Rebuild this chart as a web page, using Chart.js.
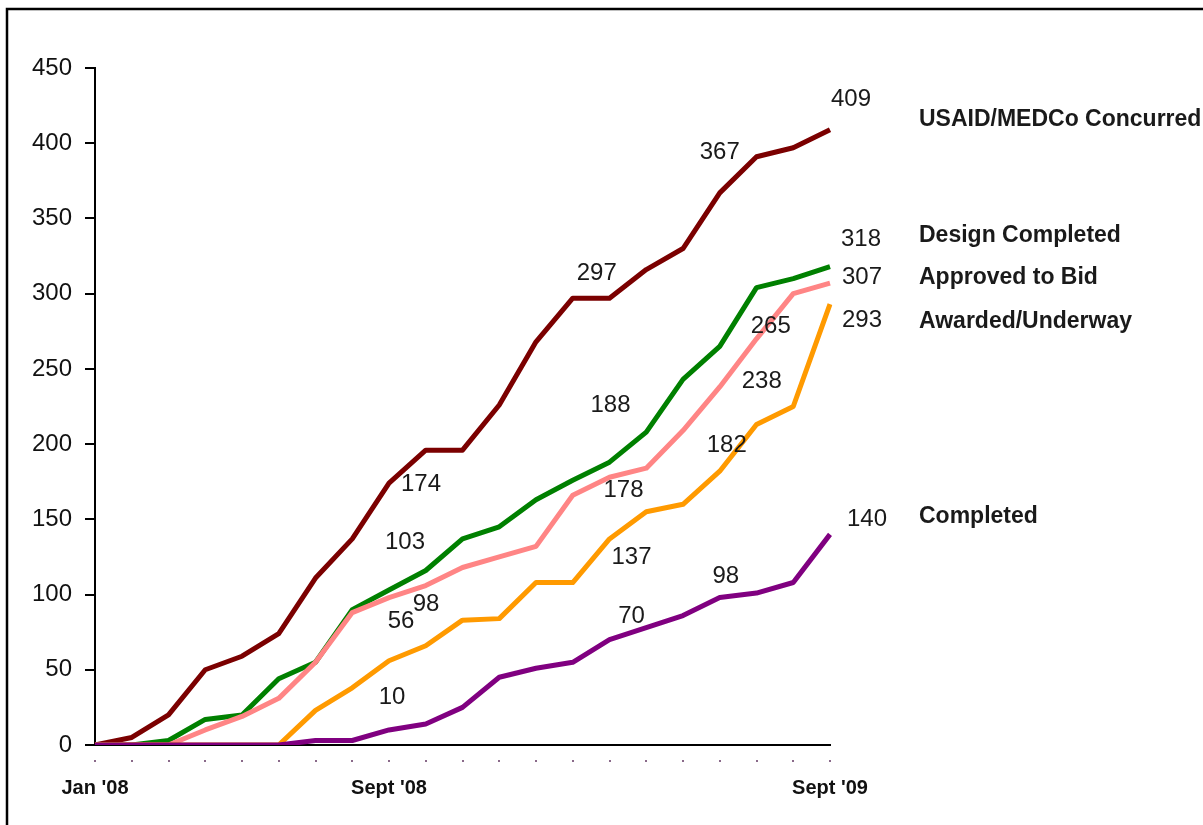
<!DOCTYPE html>
<html>
<head>
<meta charset="utf-8">
<script src="https://cdn.jsdelivr.net/npm/chart.js@4.4.0/dist/chart.umd.min.js"></script>
<style>
  html, body { margin: 0; padding: 0; background: #fff; }
  #wrap { position: relative; width: 1203px; height: 825px; }
</style>
</head>
<body>
<div id="wrap"><canvas id="progressChart" width="1203" height="825"></canvas></div>
<script>
// months Jan '08 .. Sept '09
const months = ["Jan '08", "Feb '08", "Mar '08", "Apr '08", "May '08", "Jun '08", "Jul '08", "Aug '08", "Sept '08",
    "Oct '08", "Nov '08", "Dec '08", "Jan '09", "Feb '09", "Mar '09", "Apr '09", "May '09", "Jun '09", "Jul '09",
    "Aug '09", "Sept '09"];
const shownMonths = ["Jan '08", "Sept '08", "Sept '09"];
const yTicks = [0, 50, 100, 150, 200, 250, 300, 350, 400, 450];

const concurred = [0, 5, 20, 50, 59, 74, 111, 137, 174, 196, 196, 226, 268, 297, 297, 316, 330, 367, 391, 397, 409];
const designCompleted = [0, 0, 3, 17, 20, 44, 55, 90, 103, 116, 137, 145, 163, 176, 188, 208, 243, 265, 304, 310, 318];
const approvedToBid = [0, 0, 0, 10, 19, 31, 55, 88, 98, 106, 118, 125, 132, 166, 178, 184, 209, 238, 270, 300, 307];
const awarded = [0, 0, 0, 0, 0, 0, 23, 38, 56, 66, 83, 84, 108, 108, 137, 155, 160, 182, 213, 225, 293];
const completed = [0, 0, 0, 0, 0, 0, 3, 3, 10, 14, 25, 45, 51, 55, 70, 78, 86, 98, 101, 108, 140];

// which points carry a value label, per series
const concurredLabelAt = [8, 13, 17, 20];
const designLabelAt = [8, 14, 17, 20];
const approvedLabelAt = [8, 14, 17, 20];
const awardedLabelAt = [8, 14, 17, 20];
const completedLabelAt = [8, 14, 17, 20];

const seriesNames = ['USAID/MEDCo Concurred', 'Design Completed', 'Approved to Bid', 'Awarded/Underway', 'Completed'];

// label placement relative to the point (styling only)
const labelOffsets = [
    [[32, 1], [24, -25], [0, -40], [21, -30]],
    [[16, -48], [1, -57], [51, -20], [31, -27]],
    [[37, 7], [14, 13], [42, -6], [32, -6]],
    [[12, -39], [22, 18], [7, -26], [32, 16]],
    [[3, -33], [22, -23], [6, -21], [37, -15]],
];
const nameOffsets = [-10, -31, -5, 17, -18];

const FONT = "'Liberation Sans', Arial, sans-serif";

const annotate = {
    id: 'annotate',
    beforeDraw(chart) {
        const ctx = chart.ctx;
        ctx.save();
        ctx.fillStyle = '#fff';
        ctx.fillRect(0, 0, chart.width, chart.height);
        ctx.strokeStyle = '#000';
        ctx.lineWidth = 2.5;
        ctx.beginPath();
        ctx.moveTo(7, chart.height + 5);
        ctx.lineTo(7, 9);
        ctx.lineTo(chart.width + 5, 9);
        ctx.stroke();
        ctx.restore();
    },
    afterDatasetsDraw(chart) {
        const ctx = chart.ctx;
        const xs = chart.scales.x;
        const ys = chart.scales.y;
        const area = chart.chartArea;
        ctx.save();
        // small dots under each month
        ctx.fillStyle = '#8a6a8a';
        months.forEach((m, i) => {
            ctx.fillRect(Math.round(xs.getPixelForValue(i)) - 1, area.bottom + 15, 2, 2);
        });
        const labelAt = [concurredLabelAt, designLabelAt, approvedLabelAt, awardedLabelAt, completedLabelAt];
        ctx.textAlign = 'center';
        ctx.textBaseline = 'middle';
        ctx.fillStyle = '#1a1a1a';
        ctx.font = '24px ' + FONT;
        chart.data.datasets.forEach((ds, s) => {
            labelAt[s].forEach((idx, k) => {
                const px = xs.getPixelForValue(idx) + labelOffsets[s][k][0];
                const py = ys.getPixelForValue(ds.data[idx]) + labelOffsets[s][k][1];
                ctx.fillText(String(ds.data[idx]), px, py);
            });
        });
        // series names at the right
        ctx.textAlign = 'left';
        ctx.font = 'bold 23px ' + FONT;
        chart.data.datasets.forEach((ds, s) => {
            const last = ds.data.length - 1;
            const py = ys.getPixelForValue(ds.data[last]) + nameOffsets[s];
            ctx.fillText(seriesNames[s], area.right + 89, py);
        });
        ctx.restore();
    }
};

function line(label, data, color, order) {
    return {
        label: label,
        data: data,
        borderColor: color,
        backgroundColor: color,
        borderWidth: 5,
        pointRadius: 0,
        tension: 0,
        borderJoinStyle: 'round',
        borderCapStyle: 'butt',
        order: order,
    };
}

new Chart(document.getElementById('progressChart'), {
    type: 'line',
    data: {
        labels: months,
        datasets: [
            line(seriesNames[0], concurred, '#7b0000', 5),
            line(seriesNames[1], designCompleted, '#008000', 4),
            line(seriesNames[2], approvedToBid, '#ff8585', 3),
            line(seriesNames[3], awarded, '#ff9a00', 2),
            line(seriesNames[4], completed, '#800080', 1),
        ],
    },
    options: {
        responsive: false,
        animation: false,
        layout: {
            padding: { left: 0, right: 373, top: 68, bottom: 20 },
        },
        plugins: {
            legend: { display: false },
            tooltip: { enabled: false },
        },
        scales: {
            x: {
                grid: { display: false, drawTicks: false },
                border: { display: true, color: '#000', width: 2 },
                afterFit: (s) => { s.height = 60; },
                ticks: {
                    autoSkip: false,
                    maxRotation: 0,
                    padding: 31,
                    color: '#111',
                    font: { family: FONT, size: 20, weight: 'bold' },
                    callback: function (value, index) {
                        return shownMonths.includes(months[index]) ? months[index] : '';
                    },
                },
            },
            y: {
                min: yTicks[0],
                max: yTicks[yTicks.length - 1],
                afterFit: (s) => { s.width = 95; },
                afterBuildTicks: (s) => { s.ticks = yTicks.map(v => ({ value: v })); },
                grid: {
                    drawOnChartArea: false,
                    drawTicks: true,
                    tickLength: 10,
                    color: '#000',
                    lineWidth: 2,
                },
                border: { display: true, color: '#000', width: 2 },
                ticks: {
                    padding: 13,
                    color: '#111',
                    font: { family: FONT, size: 24 },
                },
            },
        },
    },
    plugins: [annotate],
});
</script>
</body>
</html>
